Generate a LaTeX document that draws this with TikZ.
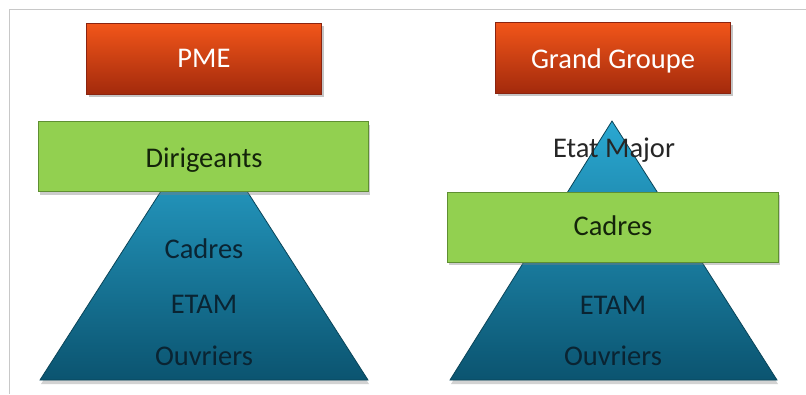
\documentclass[tikz,border=0pt]{standalone}
\usepackage{fontspec}
\setmainfont{Carlito}
\usetikzlibrary{shadows}
\definecolor{redtop}{HTML}{F2561A}
\definecolor{redbot}{HTML}{A32A0C}
\definecolor{redline}{HTML}{8A2410}
\definecolor{greenfill}{HTML}{92D050}
\definecolor{greenline}{HTML}{5F8F32}
\definecolor{pyrtop}{HTML}{2AA8D2}
\definecolor{pyrbot}{HTML}{0B5470}
\definecolor{pyrline}{HTML}{0A4458}
\definecolor{pyrtext}{HTML}{0A2432}
\definecolor{greentext}{HTML}{14240A}
\definecolor{framegray}{HTML}{C8C8C8}
\tikzset{
  titlebox/.style={draw=redline, line width=0.8pt, top color=redtop, bottom color=redbot,
    minimum width=235pt, minimum height=71pt, inner sep=0pt,
    drop shadow={opacity=0.45, shadow xshift=2pt, shadow yshift=-3pt}},
  levelbox/.style={draw=greenline, line width=0.8pt, fill=greenfill,
    minimum width=330pt, minimum height=70pt, inner sep=0pt,
    drop shadow={opacity=0.4, shadow xshift=2pt, shadow yshift=-3pt}},
  pyramid/.style={draw=pyrline, line width=0.8pt, top color=pyrtop, bottom color=pyrbot,
    drop shadow={opacity=0.35, shadow xshift=1pt, shadow yshift=-4pt}},
  lbl/.style={anchor=base, inner sep=0pt, font=\fontsize{28.5}{32}\selectfont},
  titletext/.style={lbl, text=white},
  greenlbl/.style={lbl, text=greentext},
  pyrlbl/.style={lbl, text=pyrtext},
}
\begin{document}
\begin{tikzpicture}[x=1pt, y=-1pt]
  \useasboundingbox (0,0) rectangle (806,394);
  \fill[white] (0,0) rectangle (806,394);
  % frame
  \draw[framegray, line width=1pt] (9,394) -- (9,9) -- (806,9);

  % ---- left: PME ----
  \coordinate (lapex) at (204,124);
  \coordinate (lbl) at (40,380);
  \coordinate (lbr) at (368,380);
  \path[pyramid] (lapex) -- (lbr) -- (lbl) -- cycle;
  \node[titlebox] (pme) at (204,58.5) {};
  \node[titletext] (pmetext) at (204,67) {PME};
  \node[levelbox] (dirigeants) at (203,156.5) {};
  \node[greenlbl] (dirtext) at (204,167) {Dirigeants};
  \node[pyrlbl] (lcadres) at (204,258) {Cadres};
  \node[pyrlbl] (letam) at (204,313) {ETAM};
  \node[pyrlbl] (louvriers) at (204,365) {Ouvriers};

  % ---- right: Grand Groupe ----
  \coordinate (rapex) at (612,121);
  \coordinate (rbl) at (450,380);
  \coordinate (rbr) at (777,380);
  \path[pyramid] (rapex) -- (rbr) -- (rbl) -- cycle;
  \node[titlebox] (gg) at (613,57.5) {};
  \node[titletext] (ggtext) at (613,68) {Grand Groupe};
  \node[lbl, text=black!85] (etat) at (614,157) {Etat Major};
  \node[levelbox, minimum width=331pt] (rcadres) at (612.5,227) {};
  \node[greenlbl] (rcadrestext) at (613,235) {Cadres};
  \node[pyrlbl] (retam) at (613,314) {ETAM};
  \node[pyrlbl] (rouvriers) at (613,365) {Ouvriers};
\end{tikzpicture}
\end{document}
